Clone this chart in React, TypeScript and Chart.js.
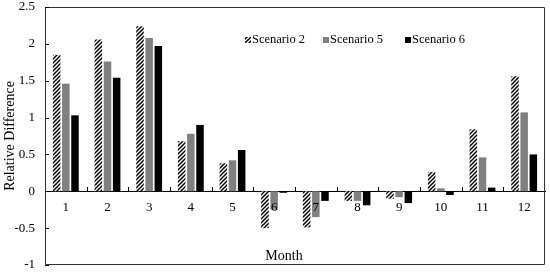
import { useEffect, useRef } from 'react';
import { Chart, registerables } from 'chart.js';

Chart.register(...registerables);

const months = ['1', '2', '3', '4', '5', '6', '7', '8', '9', '10', '11', '12'];
const scenario2 = [1.85, 2.06, 2.24, 0.68, 0.38, -0.5, -0.49, -0.13, -0.1, 0.26, 0.84, 1.56];
const scenario5 = [1.46, 1.76, 2.08, 0.78, 0.42, -0.25, -0.35, -0.13, -0.08, 0.04, 0.46, 1.07];
const scenario6 = [1.03, 1.54, 1.97, 0.9, 0.56, -0.02, -0.13, -0.19, -0.16, -0.05, 0.05, 0.5];
const seriesLabels = ['Scenario 2', 'Scenario 5', 'Scenario 6'];
const yMin = -1;
const yMax = 2.5;
const yStep = 0.5;

const FONT = "'Liberation Serif', 'Times New Roman', serif";

function makeHatch(): CanvasPattern | string {
  const c = document.createElement('canvas');
  c.width = 4;
  c.height = 4;
  const g = c.getContext('2d');
  if (!g) return '#000';
  g.fillStyle = '#fff';
  g.fillRect(0, 0, 4, 4);
  g.strokeStyle = '#000';
  g.lineWidth = 1.5;
  g.beginPath();
  g.moveTo(-1, 5);
  g.lineTo(5, -1);
  g.moveTo(-1, 1);
  g.lineTo(1, -1);
  g.moveTo(3, 5);
  g.lineTo(5, 3);
  g.stroke();
  const p = g.createPattern(c, 'repeat');
  return p || '#000';
}

const framePlugin = {
  id: 'frameAndTicks',
  afterDraw(chart: any) {
    const ctx: CanvasRenderingContext2D = chart.ctx;
    const { left, right, top, bottom } = chart.chartArea;
    const xs = chart.scales.x;
    const ys = chart.scales.y;
    ctx.save();
    ctx.globalAlpha = 1;
    ctx.globalCompositeOperation = 'source-over';
    ctx.setLineDash([]);
    ctx.lineWidth = 1;
    ctx.strokeStyle = '#333333';
    // frame
    ctx.beginPath();
    ctx.rect(Math.round(left) + 0.5, Math.round(top) + 0.5, Math.round(right - left) - 1, Math.round(bottom - top) - 1);
    ctx.stroke();
    // y ticks inward
    ctx.strokeStyle = '#000000';
    ctx.beginPath();
    ys.ticks.forEach((t: any) => {
      const y = Math.round(ys.getPixelForValue(t.value)) + 0.5;
      ctx.moveTo(left, y);
      ctx.lineTo(left + 4, y);
    });
    // x ticks at category boundaries, pointing up from zero line
    const y0 = Math.round(ys.getPixelForValue(0));
    for (let i = 1; i < months.length; i++) {
      const x = Math.round((xs.getPixelForValue(i - 1) + xs.getPixelForValue(i)) / 2) + 0.5;
      ctx.moveTo(x, y0);
      ctx.lineTo(x, y0 - 4);
    }
    ctx.stroke();
    // x title
    ctx.fillStyle = '#000';
    ctx.font = `14px ${FONT}`;
    ctx.textAlign = 'center';
    ctx.textBaseline = 'middle';
    ctx.fillText('Month', 284, 256);
    // legend
    const legendX = [245, 323, 405];
    const legendY = 40;
    ctx.font = `12.5px ${FONT}`;
    ctx.textAlign = 'left';
    chart.data.datasets.forEach((ds: any, i: number) => {
      ctx.fillStyle = ds.backgroundColor;
      ctx.fillRect(legendX[i], legendY - 3, 6, 6);
      ctx.fillStyle = '#000';
      ctx.fillText(ds.label, legendX[i] + 7, legendY);
    });
    ctx.restore();
  },
};

export default function App() {
  const ref = useRef<HTMLCanvasElement | null>(null);
  useEffect(() => {
    document.body.style.margin = '0';
    if (!ref.current) return;
    const hatch = makeHatch();
    const chart = new Chart(ref.current, {
      type: 'bar',
      data: {
        labels: months,
        datasets: [
          { label: seriesLabels[0], data: scenario2, backgroundColor: hatch as any },
          { label: seriesLabels[1], data: scenario5, backgroundColor: '#808080' },
          { label: seriesLabels[2], data: scenario6, backgroundColor: '#000000' },
        ],
      },
      options: {
        responsive: false,
        animation: false,
        layout: { padding: { left: 0, right: 5, top: 7, bottom: 8 } },
        datasets: { bar: { categoryPercentage: 0.66, barPercentage: 0.82 } },
        plugins: { legend: { display: false }, tooltip: { enabled: false } },
        scales: {
          x: {
            type: 'category',
            position: { y: 0 } as any,
            offset: true,
            grid: { display: false, drawTicks: false },
            border: { display: true, color: '#000', width: 1 },
            ticks: { z: 1, padding: 8, color: '#000', font: { family: FONT, size: 13 }, maxRotation: 0, autoSkip: false },
            afterFit: (s: any) => { s.height = 0; s.paddingLeft = 0; s.paddingRight = 0; },
          },
          y: {
            min: yMin,
            max: yMax,
            grid: { display: false, drawTicks: false },
            border: { display: false },
            ticks: {
              stepSize: yStep,
              padding: 10,
              color: '#000',
              font: { family: FONT, size: 13 },
              callback: (v: any) => String(Number(v)),
            },
            title: { display: true, text: 'Relative Difference', color: '#000', font: { family: FONT, size: 14 }, padding: { top: 2, bottom: 0 } },
            afterFit: (s: any) => { s.width = 45; s.paddingTop = 0; s.paddingBottom = 0; },
          },
        },
      },
      plugins: [framePlugin],
    });
    return () => chart.destroy();
  }, []);
  return <canvas ref={ref} width={550} height={273} style={{ display: 'block' }} />;
}
